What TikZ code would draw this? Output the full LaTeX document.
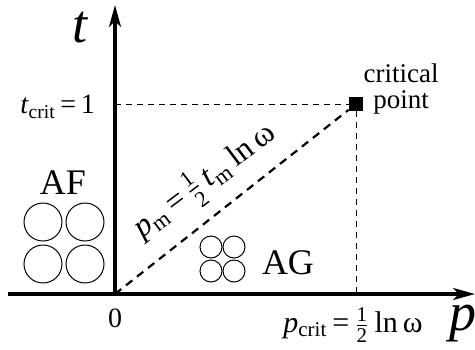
\documentclass[tikz,border=0pt]{standalone}
\usepackage{amsmath}
\usepackage{fontspec}
\setmainfont{Liberation Serif}
\usetikzlibrary{arrows.meta, calc}

\newcommand{\halfnum}{\ensuremath{\tfrac{\text{1}}{\text{2}}}}
\newcommand{\omg}{\text{ω}}

\begin{document}
\begin{tikzpicture}[x=0.5pt, y=0.5pt, font=\fontsize{14}{16}\selectfont,
  axis/.style={line width=1.6pt, -{Stealth[length=11pt, width=6pt, inset=3pt]}},
  guide/.style={line width=0.4pt, dash pattern=on 3pt off 2.5pt},
  diag/.style={line width=1.1pt, dash pattern=on 4pt off 3pt},
  critbox/.style={fill=black, minimum size=7pt, inner sep=0pt},
  phase/.style={font=\fontsize{18}{18}\selectfont},
  bigdisc/.style={line width=0.5pt},
  smalldisc/.style={line width=0.5pt}]
\useasboundingbox (-115,-55) rectangle (360,294);
% axes
\coordinate (O) at (0,0);
\coordinate (pend) at (360,0);
\coordinate (tend) at (0,289);
\draw[axis] (-107,0) -- (pend);
\draw[axis] (O) -- (tend);
\node[font=\fontsize{27}{30}\selectfont\itshape] (tlab) at (-35,266) {t};
\node[font=\fontsize{27}{30}\selectfont\itshape] (plab) at (348,-30) {p};
\node (zero) at (0,-24) {0};
% critical point
\node[critbox] (cp) at (241,190) {};
\coordinate (tc) at (0,190);
\coordinate (pc) at (241,0);
\draw[guide] (tc) -- (cp);
\draw[guide] (cp) -- (pc);
\draw[diag] (O) -- (cp);
\node[align=center, font=\fontsize{13.5}{13}\selectfont] (cplab) at (286,205) {critical\\ point};
\node[anchor=east] (tclab) at (-13,187) {\textit{t}\textsubscript{crit}\,=\,1};
\node[font=\fontsize{15}{16}\selectfont] (pclab) at (238,-31) {\textit{p}\textsubscript{crit}\,=\,\halfnum\,ln\,\omg};
\node[rotate=37, font=\fontsize{16}{16}\selectfont] (pmlab) at (90,113) {\textit{p}\textsubscript{m}\,=\,\halfnum\,\textit{t}\textsubscript{m}\,ln\,\omg};
% phases
\node[phase] (af) at (-52,111) {AF};
\foreach \cx in {-72,-30}
  \foreach \cy in {30,72}
    \draw[bigdisc] (\cx,\cy) circle (19);
\foreach \cx in {96,119}
  \foreach \cy in {23,47}
    \draw[smalldisc] (\cx,\cy) circle (11);
\node[phase] (ag) at (173,31) {AG};
\end{tikzpicture}
\end{document}
